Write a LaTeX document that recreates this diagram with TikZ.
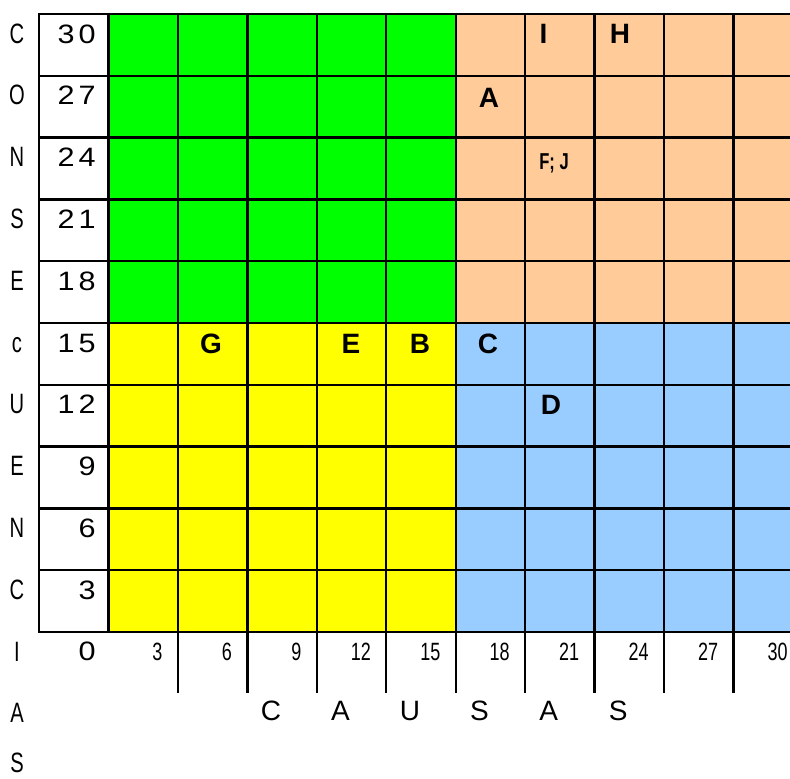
\documentclass[tikz,border=0pt]{standalone}
\usepackage{fontspec}
\setmainfont{Liberation Sans}
\newfontfamily\narrowfont[FakeStretch=0.72]{Liberation Sans}
\newfontfamily\numfont[LetterSpace=15,FakeStretch=1.15]{Liberation Sans}

\definecolor{zonegreen}{RGB}{0,255,0}
\definecolor{zonepeach}{RGB}{255,204,153}
\definecolor{zoneyellow}{RGB}{255,255,0}
\definecolor{zoneblue}{RGB}{153,204,255}

\begin{document}
\begin{tikzpicture}[x=0.5pt,y=-0.5pt,
  gridline/.style={line width=1.2pt,line cap=rect},
  sidelet/.style={font=\narrowfont\fontsize{14}{14}\selectfont,inner sep=0pt,anchor=base},
  rownum/.style={font=\numfont\fontsize{13.3}{14}\selectfont,inner sep=0pt,anchor=base east},
  colnum/.style={font=\narrowfont\fontsize{12.5}{14}\selectfont,inner sep=0pt,anchor=base east},
  causelet/.style={font=\fontsize{14}{14}\selectfont,inner sep=0pt,anchor=base},
  cellmark/.style={font=\bfseries\fontsize{14}{14}\selectfont,inner sep=0pt,anchor=base}
]
\useasboundingbox (0,0) rectangle (790,778);

% zones
\fill[zonegreen] (108.45,14) rectangle (455.7,323);
\fill[zonepeach] (455.7,14) rectangle (790,323);
\fill[zoneyellow] (108.45,323) rectangle (455.7,632);
\fill[zoneblue] (455.7,323) rectangle (790,632);

% grid
\foreach \j in {0,...,10}
  \draw[gridline] (39,{14+61.8*\j}) -- (790,{14+61.8*\j});
\foreach \i in {0,...,10}
  \draw[gridline] ({39+69.45*\i},14) -- ({39+69.45*\i},632);
\foreach \i in {2,...,10}
  \draw[gridline] ({39+69.45*\i},632) -- ({39+69.45*\i},692);

% axes
\foreach \l [count=\k from 0] in {C,O,N,S,E,c,U,E,N,C,I,A}
  \node[sidelet] (side\k) at (17,{43+61.8*\k}) {\l};
\node[sidelet] (side12) at (17,772) {S};
\foreach \v [count=\k from 0] in {30,27,24,21,18,15,12,9,6,3}
  \node[rownum] (row\k) at (96,{43+61.8*\k}) {\v};
\node[rownum] (row10) at (96,660) {0};
\foreach \v [count=\i from 1] in {3,6,...,30}
  \node[colnum] (col\i) at ({39+69.45*(\i+1)-15},660) {\v};
\foreach \l [count=\k from 0] in {C,A,U,S,A,S}
  \node[causelet] (cause\k) at ({271+69.45*\k},720) {\l};

% cases
\node[cellmark] (caseI) at (543.5,43) {I};
\node[cellmark] (caseH) at (620,43) {H};
\node[cellmark] (caseA) at (489,107) {A};
\node[cellmark,font=\narrowfont\bfseries\fontsize{11.5}{12}\selectfont] (caseFJ) at (554,169) {F; J};
\node[cellmark] (caseG) at (211,353) {G};
\node[cellmark] (caseE) at (351,353) {E};
\node[cellmark] (caseB) at (420,353) {B};
\node[cellmark] (caseC) at (488,353) {C};
\node[cellmark] (caseD) at (551,414) {D};
\end{tikzpicture}
\end{document}
